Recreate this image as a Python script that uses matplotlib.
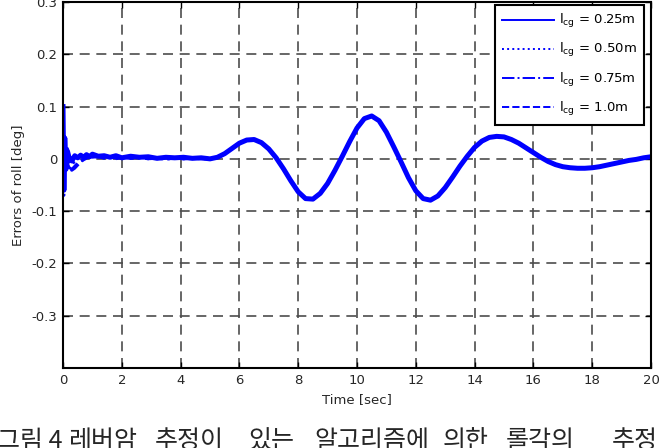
import numpy as np
import matplotlib.pyplot as plt

# early transient part (each run differs), sampled by eye
t_start = [0, 0.03, 0.06, 0.1, 0.15, 0.2, 0.3, 0.4, 0.5, 0.6, 0.7, 0.8, 0.9, 1.0,
           1.2, 1.4, 1.6, 1.8, 2.0, 2.3, 2.6, 2.9, 3.2, 3.5, 3.8, 4.1, 4.4, 4.7]
err_025 = [0.1, -0.06, 0.04, -0.02, 0.015, 0.004, -0.004, 0.006, 0.002, 0.007, 0.003, 0.008,
           0.004, 0.009, 0.005, 0.006, 0.003, 0.006, 0.002, 0.005, 0.003, 0.004, 0.001, 0.003,
           0.002, 0.003, 0.001, 0.002]
err_050 = [0.06, -0.07, 0.03, -0.01, 0.02, -0.005, -0.012, -0.004, 0.003, 0.001, 0.006, 0.002,
           0.007, 0.003, 0.006, 0.002, 0.004, 0.001, 0.005, 0.002, 0.003, 0.0, 0.002, 0.001,
           0.002, 0.0, 0.001, 0.001]
err_075 = [0.08, -0.05, 0.02, 0.01, -0.008, -0.016, -0.02, -0.014, -0.008, -0.004, -0.001, 0.002,
           0.004, 0.003, 0.004, 0.001, 0.003, 0.0, 0.003, 0.001, 0.002, 0.0, 0.001, -0.001,
           0.001, 0.0, 0.001, 0.0]
err_100 = [0.09, -0.04, 0.03, 0.005, -0.01, -0.018, -0.022, -0.018, -0.012, -0.006, -0.002, 0.001,
           0.003, 0.002, 0.005, 0.002, 0.004, 0.001, 0.004, 0.001, 0.003, 0.001, 0.002, 0.0,
           0.002, 0.0, 0.001, 0.0]

# after ~5 s all four runs lie on top of each other
t_tail = [5.0, 5.25, 5.5, 5.75, 6.0, 6.25, 6.5, 6.75, 7.0, 7.25, 7.5, 7.75, 8.0, 8.25, 8.5,
          8.75, 9.0, 9.25, 9.5, 9.75, 10.0, 10.25, 10.5, 10.75, 11.0, 11.25, 11.5, 11.75,
          12.0, 12.25, 12.5, 12.75, 13.0, 13.25, 13.5, 13.75, 14.0, 14.25, 14.5, 14.75, 15.0,
          15.25, 15.5, 15.75, 16.0, 16.25, 16.5, 16.75, 17.0, 17.25, 17.5, 17.75, 18.0, 18.25,
          18.5, 18.75, 19.0, 19.25, 19.5, 19.75, 20.0]
err_tail = [0.0, 0.003, 0.01, 0.02, 0.03, 0.036, 0.037, 0.031, 0.019, 0.002, -0.019, -0.042,
            -0.063, -0.076, -0.077, -0.066, -0.047, -0.022, 0.005, 0.033, 0.059, 0.077, 0.082,
            0.073, 0.051, 0.023, -0.006, -0.036, -0.061, -0.076, -0.079, -0.071, -0.055,
            -0.035, -0.014, 0.005, 0.022, 0.034, 0.041, 0.043, 0.042, 0.037, 0.03, 0.021,
            0.012, 0.003, -0.005, -0.011, -0.015, -0.017, -0.018, -0.018, -0.017, -0.015,
            -0.012, -0.009, -0.006, -0.003, -0.001, 0.002, 0.004]

labels = [r'l$_{\mathregular{cg}}$ = 0.25m', r'l$_{\mathregular{cg}}$ = 0.50m',
          r'l$_{\mathregular{cg}}$ = 0.75m', r'l$_{\mathregular{cg}}$ = 1.0m']
styles = ['-', ':', '-.', '--']

caption_words = ['그림 4', '레버암', '추정이', '있는', '알고리즘에', '의한', '롤각의', '추정']
caption_x = [-3, 68, 155, 248, 314, 443, 506, 612]   # left edge of each word, px

plt.rcParams['font.family'] = ['DejaVu Sans']

fig = plt.figure(figsize=(6.65, 4.48), dpi=100)
ax = fig.add_axes([63/665, 80/448, 588/665, 366/448])

runs = [err_025, err_050, err_075, err_100]
widths = [3.6, 2.0, 2.0, 2.0]
for vals, ls, lab, lw in zip(runs, styles, labels, widths):
    t = np.concatenate([t_start, t_tail])
    y = np.concatenate([vals, err_tail])
    ax.plot(t, y, color='#0000ff', linestyle=ls, lw=lw, label=lab)

ax.set_xlim(0, 20)
ax.set_ylim(-0.4, 0.3)
ax.set_xticks(np.arange(0, 21, 2))
ax.set_yticks([-0.3, -0.2, -0.1, 0, 0.1, 0.2, 0.3])
ax.set_yticklabels(['-0.3', '-0.2', '-0.1', '0', '0.1', '0.2', '0.3'])
ax.tick_params(direction='in', top=True, right=True, labelsize=9.5, length=4, width=1,
               pad=4, labelcolor='0.15')
ax.grid(True, color='0.3', linestyle=(0, (6, 4)), lw=1.2)
for sp in ax.spines.values():
    sp.set_linewidth(1.5)

ax.set_xlabel('Time [sec]', fontsize=9.5, labelpad=5, color='0.15')
ax.set_ylabel('Errors of roll [deg]', fontsize=9.5, labelpad=5, color='0.15')

leg = ax.legend(loc='upper right', bbox_to_anchor=(644/665, 1 - 5/448),
                bbox_transform=fig.transFigure, borderaxespad=0, fontsize=9.5,
                handlelength=3.9, labelspacing=0.85, fancybox=False, framealpha=1,
                edgecolor='black', borderpad=0.55, handletextpad=0.4)
leg.get_frame().set_linewidth(1.5)
for line in leg.get_lines():
    line.set_linewidth(1.4)

for word, x in zip(caption_words, caption_x):
    fig.text(x / 665, 1 - 441/448, word, fontsize=18, va='center', ha='left',
             family=['Noto Sans CJK KR', 'DejaVu Sans'], color='0.15')

fig.savefig('out.png', dpi=100)
